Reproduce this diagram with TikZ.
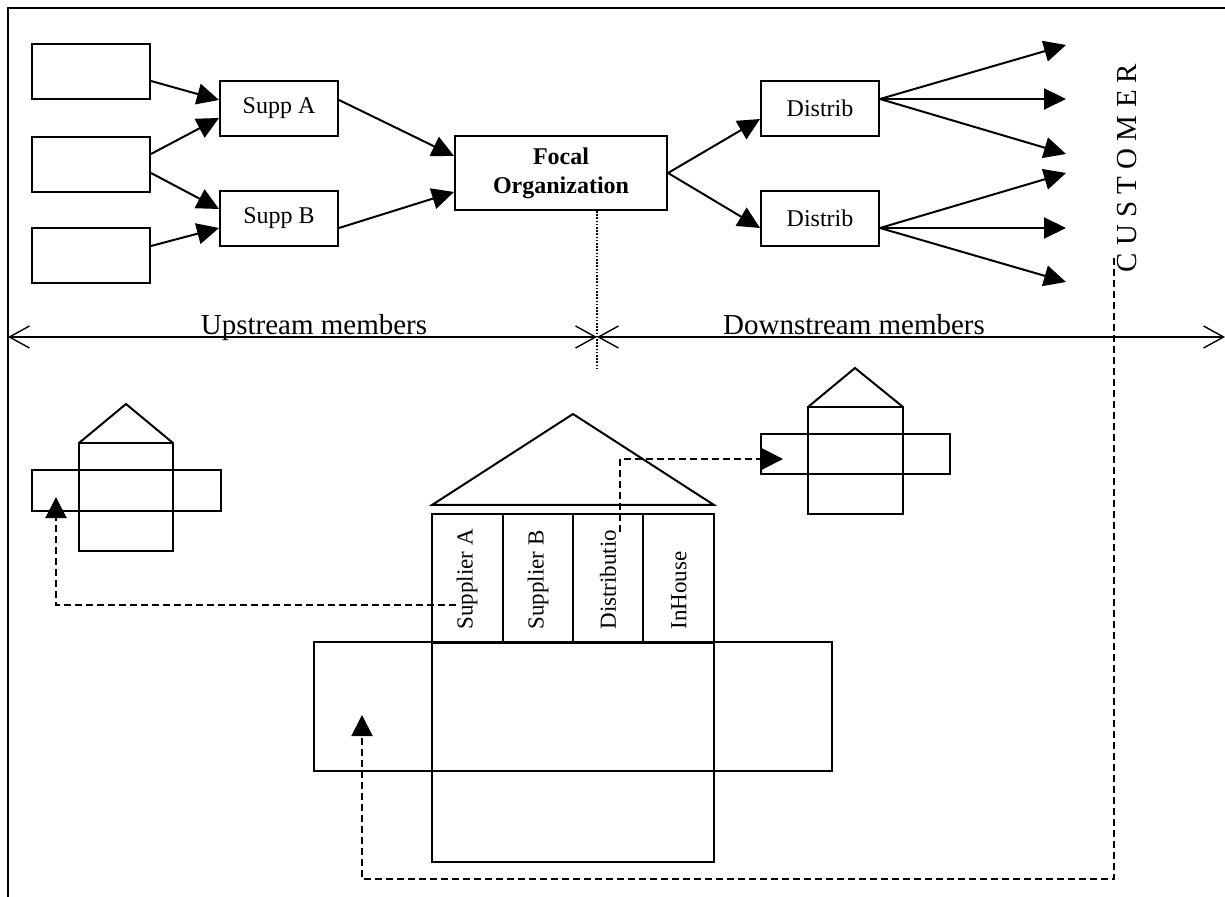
\documentclass[tikz,border=0pt]{standalone}
\usepackage{fontspec}
\setmainfont{Liberation Serif}
\usetikzlibrary{arrows.meta}
\usetikzlibrary{positioning}

\tikzset{
  box/.style={draw,line width=1pt,minimum width=59pt,minimum height=27.5pt,inner sep=0pt,font=\fontsize{12}{14}\selectfont},
  arr/.style={line width=1pt,-{Triangle[length=11pt,width=10.5pt]}},
  dashlink/.style={line width=1pt,dash pattern=on 3.5pt off 2pt,-{Triangle[length=10.5pt,width=10.5pt]}},
  divider/.style={line width=0.7pt,{Straight Barb[length=10pt,width=11pt]}-{Straight Barb[length=10pt,width=11pt]}},
  bigtxt/.style={font=\fontsize{14.5}{17}\selectfont,inner sep=0pt},
  coltxt/.style={rotate=90,anchor=west,inner sep=0pt,font=\fontsize{11.5}{13}\selectfont},
  part/.style={line width=1pt},
}

\begin{document}
\begin{tikzpicture}[x=0.5pt,y=-0.5pt]
  \useasboundingbox (0,0) rectangle (1225,897);
  \draw[line width=1pt] (8,897) -- (8,8) -- (1225,8);

  % supply chain
  \node[box] (src1) at (91,72) {};
  \node[box] (src2) at (91,164.5) {};
  \node[box] (src3) at (91,255.5) {};
  \node[box] (suppA) at (279,108.5) {Supp A};
  \node[box] (suppB) at (279,218.5) {Supp B};
  \node[box,minimum width=106pt,minimum height=37pt,align=center,font=\fontsize{12}{14.5}\selectfont\bfseries] (focal) at (561,173) {Focal\\Organization};
  \node[box] (distA) at (820,108.5) {Distrib};
  \node[box] (distB) at (820,218.5) {Distrib};
  \coordinate (c1) at (1066,45);
  \coordinate (c2) at (1066,99);
  \coordinate (c3) at (1066,154);
  \coordinate (c4) at (1066,173);
  \coordinate (c5) at (1066,228);
  \coordinate (c6) at (1066,282);

  \draw[arr] ([yshift=-4.5pt]src1.east) -- ([yshift=4.25pt]suppA.west);
  \draw[arr] ([yshift=5.25pt]src2.east) -- ([yshift=-4.75pt]suppA.west);
  \draw[arr] ([yshift=-4.25pt]src2.east) -- ([yshift=4.75pt]suppB.west);
  \draw[arr] ([yshift=4.75pt]src3.east) -- ([yshift=-4.75pt]suppB.west);
  \draw[arr] ([yshift=4.25pt]suppA.east) -- ([yshift=8.5pt]focal.west);
  \draw[arr] ([yshift=-4.75pt]suppB.east) -- ([yshift=-9.5pt]focal.west);
  \draw[arr] (focal.east) -- ([yshift=-5.25pt]distA.west);
  \draw[arr] (focal.east) -- ([yshift=-4.75pt]distB.west);
  \foreach \c in {c1,c2,c3}
    \draw[arr] ([yshift=4.75pt]distA.east) -- (\c);
  \foreach \c in {c4,c5,c6}
    \draw[arr] ([yshift=-4.75pt]distB.east) -- (\c);

  \node[bigtxt,rotate=90] (cust) at (1127,168) {C U S T O M E R};

  % upstream / downstream
  \coordinate (focalFoot) at ([xshift=18pt]focal.south);
  \coordinate (dotEnd) at (597,371);
  \draw[line width=0.6pt,dash pattern=on 0.8pt off 0.8pt] (focalFoot) -- (dotEnd);
  \coordinate (lEnd) at (8,337);
  \coordinate (mid) at (597,337);
  \coordinate (rEnd) at (1225,337);
  \draw[divider] (lEnd) -- (mid);
  \draw[divider] (mid) -- (rEnd);
  \node[bigtxt,anchor=base] (upTxt) at (314,335) {Upstream members};
  \node[bigtxt,anchor=base] (downTxt) at (854,335) {Downstream members};

  % focal house
  \draw[part] (432,505) -- (573,414) -- (714,505) -- cycle;
  \draw[part] (432,514) rectangle (503,643);
  \draw[part] (503,514) rectangle (573,643);
  \draw[part] (573,514) rectangle (643,643);
  \draw[part] (643,514) rectangle (714,643);
  \draw[part] (314,642) rectangle (832,771);
  \draw[part] (432,642) rectangle (714,862);
  \node[coltxt] (colA) at (467,630) {Supplier A};
  \node[coltxt] (colB) at (538,630) {Supplier B};
  \node[coltxt] (colC) at (608,630) {Distributio};
  \node[coltxt] (colD) at (679,630) {InHouse};

  % supplier house
  \draw[part] (79,443) -- (126,404) -- (173,443);
  \draw[part] (79,443) rectangle (173,551);
  \draw[part] (32,470) rectangle (221,511);

  % distributor house
  \draw[part] (808,407) -- (855,368) -- (903,407);
  \draw[part] (808,407) rectangle (903,514);
  \draw[part] (761,434) rectangle (950,474);

  % links
  \coordinate (fromA) at (456,605);
  \coordinate (toSupp) at (56,497);
  \coordinate (fromC) at (620,532);
  \coordinate (toDist) at (783,459);
  \coordinate (custFoot) at (1114,258);
  \coordinate (turn) at (1114,879);
  \coordinate (toFocal) at (362,715);
  \draw[dashlink] (fromA) -| (toSupp);
  \draw[dashlink] (fromC) |- (toDist);
  \draw[dashlink] (custFoot) -- (turn) -| (toFocal);
\end{tikzpicture}
\end{document}
